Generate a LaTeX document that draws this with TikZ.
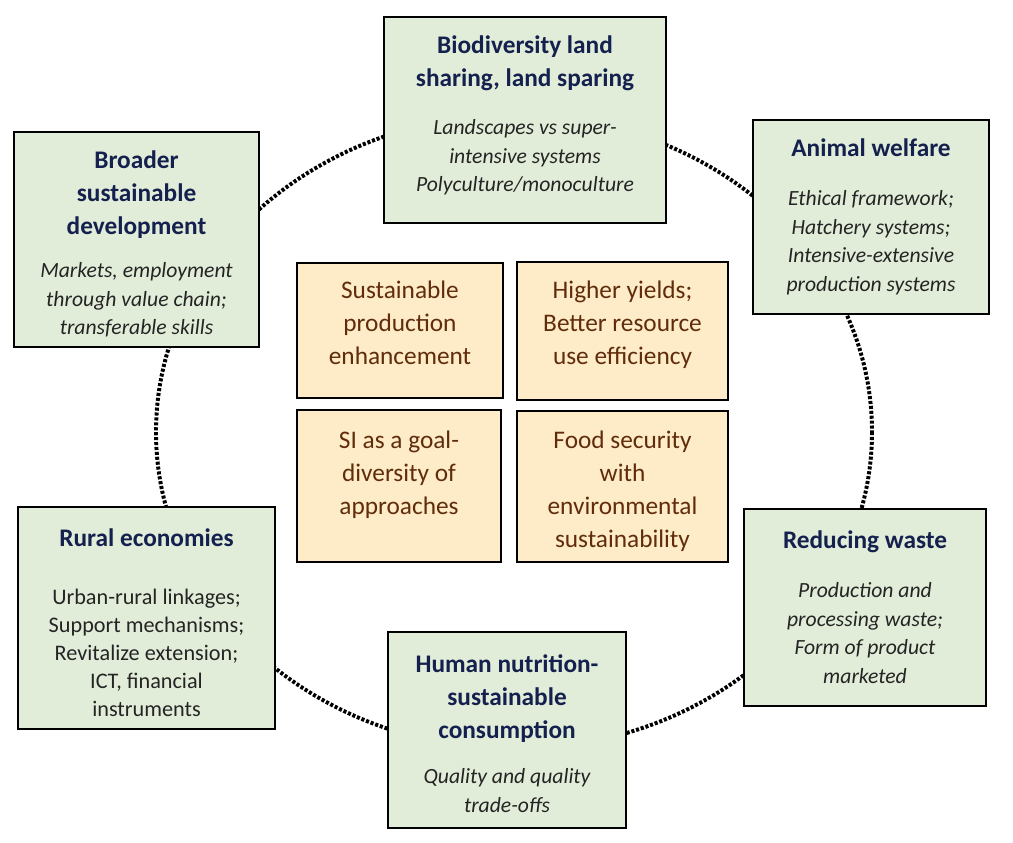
\documentclass[tikz,border=0pt]{standalone}
\usepackage{fontspec}
\setmainfont{Carlito}
\definecolor{boxgreen}{RGB}{226,237,217}
\definecolor{boxorange}{RGB}{253,236,199}
\definecolor{titleblue}{RGB}{20,32,78}
\definecolor{textbrown}{RGB}{96,44,12}
\definecolor{textgray}{RGB}{36,36,36}
\tikzstyle{greenbox} = [draw=black, line width=1.7pt, fill=boxgreen, inner sep=0pt]
\tikzstyle{orangebox} = [draw=black, line width=1.7pt, fill=boxorange, inner sep=0pt]
\tikzstyle{head} = [font=\fontsize{18}{23.5}\selectfont\bfseries, text=titleblue, align=center, anchor=north, inner sep=0pt]
\tikzstyle{detail} = [font=\fontsize{15.4}{20.4}\selectfont\itshape, text=textgray, align=center, anchor=north, inner sep=0pt]
\tikzstyle{plain} = [font=\fontsize{15.8}{19.9}\selectfont, text=textgray, align=center, anchor=north, inner sep=0pt]
\tikzstyle{core} = [font=\fontsize{18}{23.6}\selectfont, text=textbrown, align=center, anchor=north, inner sep=0pt]
\tikzstyle{ring} = [line width=2.8pt, dash pattern=on 2.2pt off 1.3pt]

\begin{document}
\begin{tikzpicture}[x=0.025cm,y=-0.025cm]
    \useasboundingbox (0,0) rectangle (1013,842);
    \draw[ring] (514,432) ellipse (358 and 317);
    % outer ring of boxes
    \node[greenbox, minimum width=7.05cm, minimum height=5.15cm] (bio) at (525,120) {};
    \node[head] (bio-head) at (525,35.5) {Biodiversity land\\sharing, land sparing};
    \node[detail] (bio-text) at (525,119) {Landscapes vs super-\\intensive systems\\Polyculture/monoculture};

    \node[greenbox, minimum width=6.125cm, minimum height=5.375cm] (broad) at (136.5,239.5) {};
    \node[head] (broad-head) at (136.5,150.5) {Broader\\sustainable\\development};
    \node[detail] (broad-text) at (136.5,262) {Markets, employment\\through value chain;\\transferable skills};

    \node[greenbox, minimum width=5.9cm, minimum height=4.85cm] (animal) at (871,217) {};
    \node[head] (animal-head) at (871,138.5) {Animal welfare};
    \node[detail] (animal-text) at (871,190) {Ethical framework;\\Hatchery systems;\\Intensive-extensive\\production systems};

    \node[greenbox, minimum width=6.05cm, minimum height=4.925cm] (waste) at (865,607.5) {};
    \node[head] (waste-head) at (865,530.5) {Reducing waste};
    \node[detail] (waste-text) at (865,582) {Production and\\processing waste;\\Form of product\\marketed};

    \node[greenbox, minimum width=5.95cm, minimum height=4.9cm] (human) at (507,730) {};
    \node[head] (human-head) at (507,654.5) {Human nutrition-\\sustainable\\consumption};
    \node[detail] (human-text) at (507,768) {Quality and quality\\trade-offs};

    \node[greenbox, minimum width=6.425cm, minimum height=5.55cm] (rural) at (146.5,618) {};
    \node[head] (rural-head) at (146.5,528.5) {Rural economies};
    \node[plain] (rural-text) at (146.5,589) {Urban-rural linkages;\\Support mechanisms;\\Revitalize extension;\\ICT, financial\\instruments};

    % centre boxes
    \foreach \nm/\cx/\cy/\w/\h/\ty/\lab in {
        coreA/400/330.5/5.15/3.375/280.5/{Sustainable\\production\\enhancement},
        coreB/622.5/331/5.275/3.45/280.5/{Higher yields;\\Better resource\\use efficiency},
        coreC/399/486/5.1/3.8/430.5/{SI as a goal-\\diversity of\\approaches},
        coreD/622.5/486.5/5.275/3.775/430.5/{Food security\\with\\environmental\\sustainability}}{
        \node[orangebox, minimum width=\w cm, minimum height=\h cm] (\nm) at (\cx,\cy) {};
        \node[core] (\nm-text) at (\cx,\ty) {\lab};
    }
\end{tikzpicture}
\end{document}
